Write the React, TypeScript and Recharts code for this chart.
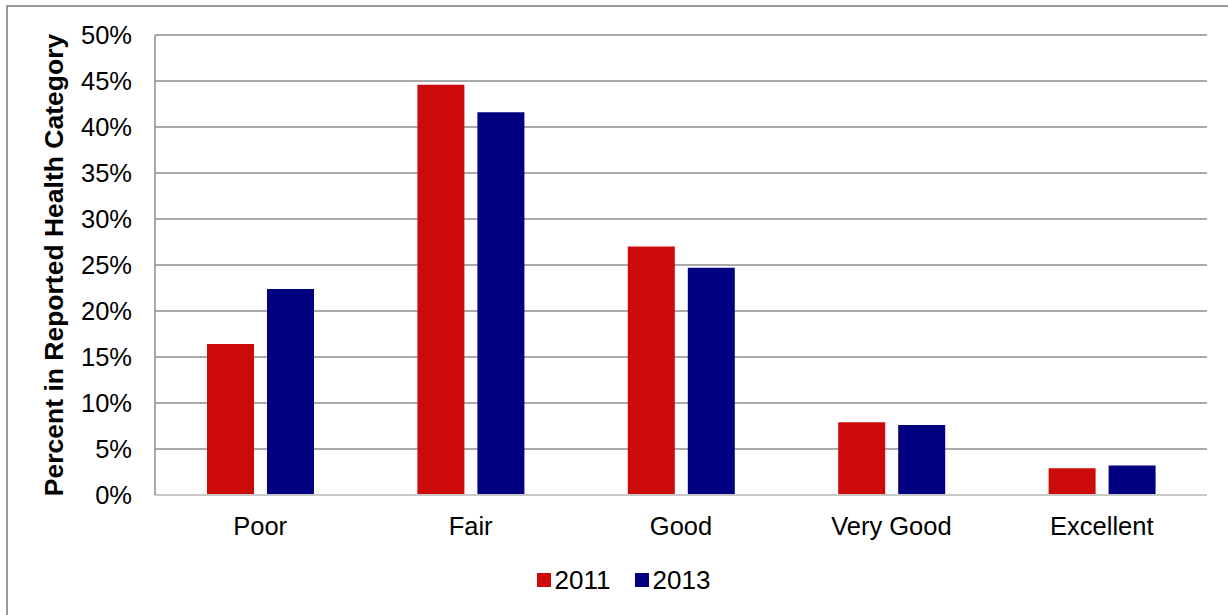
import React from 'react';
import {
  BarChart,
  Bar,
  XAxis,
  YAxis,
  CartesianGrid,
  Legend,
} from 'recharts';

// health category shares, percent
const categories = ['Poor', 'Fair', 'Good', 'Very Good', 'Excellent'];
const y2011 = [16.4, 44.6, 27.0, 7.9, 2.9];
const y2013 = [22.4, 41.6, 24.7, 7.6, 3.2];
const yTicks = [0, 5, 10, 15, 20, 25, 30, 35, 40, 45, 50];

const series = [
  { key: 'y2011', name: '2011', color: '#CC0A0A' },
  { key: 'y2013', name: '2013', color: '#000080' },
];

const data = categories.map((c, i) => ({
  category: c,
  y2011: y2011[i],
  y2013: y2013[i],
}));

const font = '"Liberation Sans", Arial, sans-serif';
const grid = '#8c8c8c';

function LegendBox() {
  return (
    <div
      style={{
        display: 'flex',
        justifyContent: 'center',
        alignItems: 'center',
        height: 30,
        fontFamily: font,
        fontSize: 26,
        color: '#000',
      }}
    >
      {series.map((s, i) => (
        <span
          key={s.key}
          style={{ display: 'flex', alignItems: 'center', marginLeft: i ? 24 : 0 }}
        >
          <span
            style={{ width: 14, height: 14, background: s.color, marginRight: 4 }}
          />
          {s.name}
        </span>
      ))}
    </div>
  );
}

export default function App() {
  return (
    <div
      style={{
        position: 'absolute',
        left: 0,
        top: 0,
        width: 1228,
        height: 615,
        background: '#fff',
        overflow: 'hidden',
      }}
    >
      <div
        style={{
          position: 'absolute',
          left: 6,
          top: 5,
          width: 1240,
          height: 640,
          borderLeft: '2px solid #999',
          borderTop: '2px solid #999',
        }}
      />
      <BarChart
        width={1228}
        height={615}
        data={data}
        margin={{ top: 35, right: 21, left: 40, bottom: 20 }}
        barSize={47}
        barGap={13}
        style={{ position: 'absolute', left: 0, top: 0 }}
      >
        <CartesianGrid vertical={false} stroke={grid} strokeWidth={1.5} />
        <XAxis
          dataKey="category"
          height={70}
          tickLine={false}
          tickSize={6}
          tickMargin={16}
          axisLine={{ stroke: '#c8c8c8', strokeWidth: 2 }}
          tick={{ fontFamily: font, fontSize: 25.5, fill: '#000' }}
          interval={0}
        />
        <YAxis
          width={115}
          domain={[0, 50]}
          ticks={yTicks}
          tickFormatter={(v: number) => `${v}%`}
          tickLine={false}
          tickSize={6}
          tickMargin={17}
          axisLine={{ stroke: grid, strokeWidth: 1.5 }}
          tick={{ fontFamily: font, fontSize: 25.5, fill: '#000' }}
          label={{
            value: 'Percent in Reported Health Category',
            angle: -90,
            position: 'insideLeft',
            offset: 14,
            style: {
              textAnchor: 'middle',
              fontFamily: font,
              fontSize: 26.5,
              fontWeight: 'bold',
              fill: '#000',
            },
          }}
        />
        <YAxis
          yAxisId="frame"
          orientation="right"
          width={0}
          tick={false}
          tickLine={false}
          axisLine={{ stroke: grid, strokeWidth: 1.5 }}
        />
        <Legend verticalAlign="bottom" height={30} content={() => <LegendBox />} />
        {series.map(s => (
          <Bar
            key={s.key}
            dataKey={s.key}
            name={s.name}
            fill={s.color}
            isAnimationActive={false}
          />
        ))}
      </BarChart>
    </div>
  );
}
